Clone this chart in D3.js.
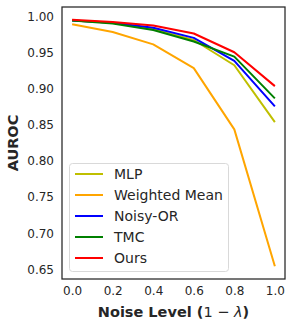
<!DOCTYPE html>
<html><head><meta charset="utf-8">
<script src="https://cdn.jsdelivr.net/npm/d3@7"></script>
<style>body{margin:0;background:#fff}svg{display:block}</style>
</head><body>
<svg id="c" width="292" height="328"></svg>
<script>
const noise = [0.0, 0.2, 0.4, 0.6, 0.8, 1.0];
const mlp = [0.995, 0.992, 0.983, 0.968, 0.933, 0.854];
const weightedMean = [0.990, 0.979, 0.962, 0.929, 0.844, 0.654];
const noisyOr = [0.995, 0.992, 0.985, 0.971, 0.939, 0.876];
const tmc = [0.995, 0.991, 0.982, 0.966, 0.945, 0.887];
const ours = [0.996, 0.993, 0.988, 0.977, 0.951, 0.904];
const seriesNames = ["MLP", "Weighted Mean", "Noisy-OR", "TMC", "Ours"];
const seriesColors = ["#bfbf00", "#ffa500", "#0000ff", "#008000", "#ff0000"];
const seriesValues = [mlp, weightedMean, noisyOr, tmc, ours];
const xTicks = [0.0, 0.2, 0.4, 0.6, 0.8, 1.0];
const yTicks = [0.65, 0.70, 0.75, 0.80, 0.85, 0.90, 0.95, 1.00];

const svg = d3.select("#c");
const L = 62, R = 285, T = 7, B = 279;
const x = d3.scaleLinear().domain([-0.05, 1.05]).range([L, R]);
const y = d3.scaleLinear().domain([0.6364, 1.0138]).range([B, T]);
const font = "DejaVu Sans, sans-serif";
const tc = "#262626";

const gx = svg.append("g").attr("transform", `translate(0,${B})`)
  .call(d3.axisBottom(x).tickValues(xTicks).tickFormat(d3.format(".1f")).tickSize(0).tickPadding(7));
gx.select(".domain").remove();
gx.selectAll("text").attr("font-family", font).attr("font-size", 12).attr("fill", tc);

const gy = svg.append("g").attr("transform", `translate(${L},0)`)
  .call(d3.axisLeft(y).tickValues(yTicks).tickFormat(d3.format(".2f")).tickSize(0).tickPadding(8));
gy.select(".domain").remove();
gy.selectAll("text").attr("font-family", font).attr("font-size", 12).attr("fill", tc);

const line = d3.line().x((d, i) => x(noise[i])).y(d => y(d));
seriesValues.forEach((vals, k) => {
  svg.append("path").datum(vals).attr("d", line)
    .attr("fill", "none").attr("stroke", seriesColors[k]).attr("stroke-width", 2)
    .attr("stroke-linejoin", "round");
});

svg.append("rect").attr("x", L).attr("y", T).attr("width", R - L).attr("height", B - T)
  .attr("fill", "none").attr("stroke", "#262626").attr("stroke-width", 1.25);

// legend
const lg = svg.append("g");
lg.append("rect").attr("x", 69.5).attr("y", 163.5).attr("width", 159).attr("height", 108)
  .attr("rx", 3).attr("fill", "#fff").attr("fill-opacity", 0.8).attr("stroke", "#d9d9d9").attr("stroke-width", 1);
seriesNames.forEach((n, k) => {
  const yy = 174 + k * 21;
  lg.append("line").attr("x1", 75).attr("x2", 103).attr("y1", yy).attr("y2", yy)
    .attr("stroke", seriesColors[k]).attr("stroke-width", 2);
  lg.append("text").attr("x", 114).attr("y", yy).attr("dy", "0.36em")
    .attr("font-family", font).attr("font-size", 14).attr("fill", tc).text(n);
});

svg.append("text").attr("transform", `translate(18,${(T + B) / 2}) rotate(-90)`)
  .attr("text-anchor", "middle").attr("font-family", font).attr("font-size", 14.5)
  .attr("font-weight", "bold").attr("fill", tc).text("AUROC");

const xl = svg.append("text").attr("x", (L + R) / 2).attr("y", 316.5)
  .attr("text-anchor", "middle").attr("font-family", font).attr("font-size", 14.5)
  .attr("font-weight", "bold").attr("fill", tc);
xl.append("tspan").text("Noise Level (");
xl.append("tspan").attr("font-weight", "normal").text("1 − ");
xl.append("tspan").attr("font-weight", "normal").attr("font-style", "italic").text("λ");
xl.append("tspan").text(")");
</script>
</body></html>
